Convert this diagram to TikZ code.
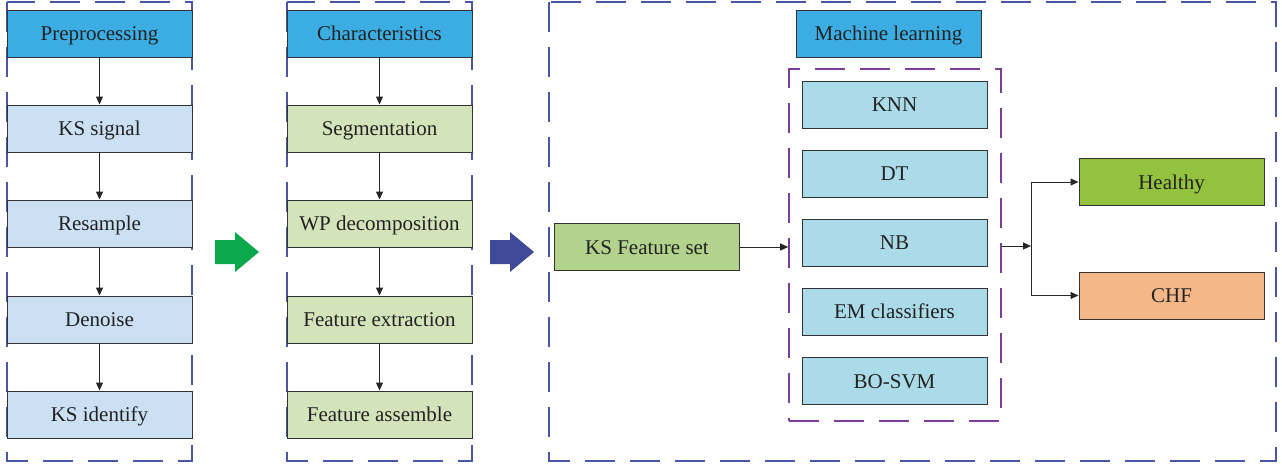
\documentclass[tikz,border=0pt]{standalone}
\usepackage{fontspec}
\setmainfont{Liberation Serif}
\usetikzlibrary{arrows.meta}
\definecolor{hdrblue}{HTML}{3BADE3}
\definecolor{ltblue}{HTML}{CBE0F3}
\definecolor{ltgreen}{HTML}{D3E4BB}
\definecolor{clsblue}{HTML}{ABDBE9}
\definecolor{featgreen}{HTML}{B3D28C}
\definecolor{healthyc}{HTML}{93C23E}
\definecolor{chfc}{HTML}{F4B888}
\definecolor{dashblue}{HTML}{4B55A5}
\definecolor{dashpurple}{HTML}{7D3C98}
\definecolor{arrgreen}{HTML}{0BA94B}
\definecolor{arrblue}{HTML}{3F4A99}
\definecolor{txt}{HTML}{222222}
\tikzset{
  box/.style={rectangle, draw=black!80, line width=1pt, minimum width=185pt, minimum height=47pt,
    inner sep=0pt, text height=14pt, text depth=0pt, text=txt, font=\fontsize{21}{25}\selectfont},
  hdr/.style={box, fill=hdrblue},
  pre/.style={box, fill=ltblue},
  chr/.style={box, fill=ltgreen},
  cls/.style={box, fill=clsblue},
  bluedash/.style={draw=dashblue, line width=1.6pt, dash pattern=on 30pt off 15pt},
  purpdash/.style={draw=dashpurple, line width=1.6pt, dash pattern=on 30pt off 15pt},
  conn/.style={draw=black!85, line width=1pt, -{Triangle[length=8pt,width=7pt]}},
}
\begin{document}
\begin{tikzpicture}[x=1pt,y=-1pt]
\useasboundingbox (0,0) rectangle (1282,466);
% dashed frames
\draw[bluedash] (7,2) rectangle (192,461);
\draw[bluedash] (287,2) rectangle (472,461);
\draw[bluedash] (549,2) rectangle (1276,461);
\node[purpdash, rectangle, minimum width=212pt, minimum height=352pt, inner sep=0pt] (pbox) at (895,245) {};
% preprocessing column
\node[hdr] (pp) at (99.5,33.5) {Preprocessing};
\node[pre] (ks) at (99.5,128.5) {KS signal};
\node[pre] (rs) at (99.5,223.5) {Resample};
\node[pre] (dn) at (99.5,319.5) {Denoise};
\node[pre] (ki) at (99.5,414.5) {KS identify};
\draw[conn] (pp) -- (ks);
\draw[conn] (ks) -- (rs);
\draw[conn] (rs) -- (dn);
\draw[conn] (dn) -- (ki);
% characteristics column
\node[hdr] (ch) at (379.5,33.5) {Characteristics};
\node[chr] (sg) at (379.5,128.5) {Segmentation};
\node[chr] (wp) at (379.5,223.5) {WP decomposition};
\node[chr] (fe) at (379.5,319.5) {Feature extraction};
\node[chr] (fa) at (379.5,414.5) {Feature assemble};
\draw[conn] (ch) -- (sg);
\draw[conn] (sg) -- (wp);
\draw[conn] (wp) -- (fe);
\draw[conn] (fe) -- (fa);
% big arrows
\fill[arrgreen] (215,240) -- (235,240) -- (235,232) -- (259,252) -- (235,272) -- (235,264) -- (215,264) -- cycle;
\fill[arrblue] (490,240) -- (510,240) -- (510,232) -- (534,252) -- (510,272) -- (510,264) -- (490,264) -- cycle;
% machine learning
\node[hdr] (ml) at (888.5,33.5) {Machine learning};
\node[box, fill=featgreen] (fs) at (647,247) {KS Feature set};
\node[cls] (knn) at (894.5,104.5) {KNN};
\node[cls] (dt) at (894.5,173.5) {DT};
\node[cls] (nb) at (894.5,242.5) {NB};
\node[cls] (em) at (894.5,311.5) {EM classifiers};
\node[cls] (svm) at (894.5,381) {BO-SVM};
\node[box, fill=healthyc] (hl) at (1171.5,182) {Healthy};
\node[box, fill=chfc] (chf) at (1171.5,295.5) {CHF};
\coordinate (split) at (1031,246);
\draw[conn] (fs.east) -- (fs.east -| pbox.west);
\draw[conn] (pbox.east |- split) -- (split);
\draw[conn] (split) |- (hl.west);
\draw[conn] (split) |- (chf.west);
\end{tikzpicture}
\end{document}
